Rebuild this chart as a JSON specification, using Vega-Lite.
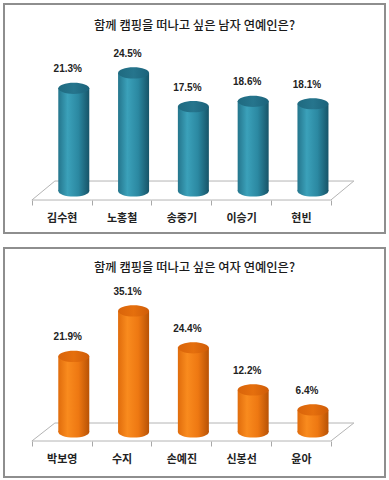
{
  "$schema": "https://vega.github.io/schema/vega-lite/v6.json",
  "background": "white",
  "padding": {"left": 3, "top": 3, "right": 4, "bottom": 3},
  "spacing": 15,
  "bounds": "flush",
  "config": {
    "view": {"stroke": "#8e8e8e", "strokeWidth": 2},
    "title": {"font": "Noto Sans CJK KR", "fontSize": 12.3, "fontWeight": 500, "color": "#1a1a1a", "frame": "group", "anchor": "middle", "baseline": "middle"},
    "axisX": {"labelFont": "Noto Sans CJK KR", "labelFontSize": 11, "labelFontWeight": "bold", "labelColor": "#222222", "labelAngle": 0, "domain": false, "tickColor": "#a8a8a8", "tickSize": 5, "labelPadding": 7}
  },
  "vconcat": [
    {
      "width": 381,
      "height": 229,
      "title": {"text": "함께 캠핑을 떠나고 싶은 남자 연예인은?", "offset": -28},
      "data": {"values": [
        {"name": "김수현", "value": 0.213},
        {"name": "노홍철", "value": 0.245},
        {"name": "송중기", "value": 0.175},
        {"name": "이승기", "value": 0.186},
        {"name": "현빈", "value": 0.181}
      ]},
      "layer": [
        {
          "mark": {"type": "rule", "color": "#b4b4b4", "strokeWidth": 1, "xOffset": 23, "x2Offset": 23, "yOffset": -10},
          "encoding": {
            "x": {"field": "name", "type": "nominal", "sort": null, "bandPosition": 0, "scale": {"paddingInner": 0, "paddingOuter": 0.686, "align": 0.34}, "axis": {"offset": -33, "title": null, "tickBand": "extent"}},
            "x2": {"field": "name", "bandPosition": 1},
            "y": {"datum": 0, "type": "quantitative", "axis": null, "scale": {"domain": [-0.0871, 0.388], "nice": false, "zero": false}}
          }
        },
        {
          "transform": [{"filter": {"field": "name", "equal": "김수현"}}],
          "mark": {"type": "rule", "color": "#b4b4b4", "strokeWidth": 1, "yOffset": 9, "x2Offset": 23, "y2Offset": -10},
          "encoding": {
            "x": {"field": "name", "type": "nominal", "sort": null, "bandPosition": 0, "scale": {"paddingInner": 0, "paddingOuter": 0.686, "align": 0.34}, "axis": {"offset": -33, "title": null, "tickBand": "extent"}},
            "x2": {"field": "name", "bandPosition": 0},
            "y": {"datum": 0, "type": "quantitative", "axis": null, "scale": {"domain": [-0.0871, 0.388], "nice": false, "zero": false}},
            "y2": {"datum": 0}
          }
        },
        {
          "transform": [{"filter": {"field": "name", "equal": "현빈"}}],
          "mark": {"type": "rule", "color": "#b4b4b4", "strokeWidth": 1, "yOffset": 9, "x2Offset": 23, "y2Offset": -10},
          "encoding": {
            "x": {"field": "name", "type": "nominal", "sort": null, "bandPosition": 1, "scale": {"paddingInner": 0, "paddingOuter": 0.686, "align": 0.34}, "axis": {"offset": -33, "title": null, "tickBand": "extent"}},
            "x2": {"field": "name", "bandPosition": 1},
            "y": {"datum": 0, "type": "quantitative", "axis": null, "scale": {"domain": [-0.0871, 0.388], "nice": false, "zero": false}},
            "y2": {"datum": 0}
          }
        },
        {
          "mark": {"type": "rule", "color": "#b4b4b4", "strokeWidth": 1, "yOffset": 9},
          "encoding": {
            "x": {"field": "name", "type": "nominal", "sort": null, "bandPosition": 0, "scale": {"paddingInner": 0, "paddingOuter": 0.686, "align": 0.34}, "axis": {"offset": -33, "title": null, "tickBand": "extent"}},
            "x2": {"field": "name", "bandPosition": 1},
            "y": {"datum": 0, "type": "quantitative", "axis": null, "scale": {"domain": [-0.0871, 0.388], "nice": false, "zero": false}}
          }
        },
        {
          "mark": {"type": "point", "shape": "M-1,0A1,0.36,0,1,1,1,0A1,0.36,0,1,1,-1,0Z", "filled": true, "size": 961, "opacity": 1, "strokeWidth": 0, "xOffset": 12,
            "color": {"gradient": "linear", "x1": 0, "y1": 0, "x2": 1, "y2": 0, "stops": [{"offset": 0, "color": "#24758c"}, {"offset": 0.3, "color": "#3ba1ba"}, {"offset": 0.65, "color": "#2b88a1"}, {"offset": 1, "color": "#175468"}]}},
          "encoding": {
            "x": {"field": "name", "type": "nominal", "sort": null, "scale": {"paddingInner": 0, "paddingOuter": 0.686, "align": 0.34}, "axis": {"offset": -33, "title": null, "tickBand": "extent"}},
            "y": {"datum": 0, "type": "quantitative", "axis": null, "scale": {"domain": [-0.0871, 0.388], "nice": false, "zero": false}}
          }
        },
        {
          "mark": {"type": "bar", "width": 31, "xOffset": 12,
            "color": {"gradient": "linear", "x1": 0, "y1": 0, "x2": 1, "y2": 0, "stops": [{"offset": 0, "color": "#24758c"}, {"offset": 0.3, "color": "#3ba1ba"}, {"offset": 0.65, "color": "#2b88a1"}, {"offset": 1, "color": "#175468"}]}},
          "encoding": {
            "x": {"field": "name", "type": "nominal", "sort": null, "scale": {"paddingInner": 0, "paddingOuter": 0.686, "align": 0.34}, "axis": {"offset": -33, "title": null, "tickBand": "extent"}},
            "y": {"field": "value", "type": "quantitative", "axis": null, "scale": {"domain": [-0.0871, 0.388], "nice": false, "zero": false}},
            "y2": {"datum": 0}
          }
        },
        {
          "mark": {"type": "point", "shape": "M-1,0A1,0.36,0,1,1,1,0A1,0.36,0,1,1,-1,0Z", "filled": true, "size": 961, "opacity": 1, "strokeWidth": 0, "xOffset": 12,
            "color": {"gradient": "linear", "x1": 0, "y1": 0, "x2": 1, "y2": 0, "stops": [{"offset": 0, "color": "#1f6a80"}, {"offset": 0.5, "color": "#26758d"}, {"offset": 1, "color": "#1b627a"}]}},
          "encoding": {
            "x": {"field": "name", "type": "nominal", "sort": null, "scale": {"paddingInner": 0, "paddingOuter": 0.686, "align": 0.34}, "axis": {"offset": -33, "title": null, "tickBand": "extent"}},
            "y": {"field": "value", "type": "quantitative", "axis": null, "scale": {"domain": [-0.0871, 0.388], "nice": false, "zero": false}}
          }
        },
        {
          "mark": {"type": "text", "dy": -19, "xOffset": 6, "font": "Liberation Sans", "fontSize": 10, "fontWeight": "bold", "color": "#222222"},
          "encoding": {
            "x": {"field": "name", "type": "nominal", "sort": null, "scale": {"paddingInner": 0, "paddingOuter": 0.686, "align": 0.34}, "axis": {"offset": -33, "title": null, "tickBand": "extent"}},
            "y": {"field": "value", "type": "quantitative", "axis": null, "scale": {"domain": [-0.0871, 0.388], "nice": false, "zero": false}},
            "text": {"field": "value", "type": "quantitative", "format": ".1%"}
          }
        }
      ]
    },
    {
      "width": 381,
      "height": 229,
      "title": {"text": "함께 캠핑을 떠나고 싶은 여자 연예인은?", "offset": -26},
      "data": {"values": [
        {"name": "박보영", "value": 0.219},
        {"name": "수지", "value": 0.351},
        {"name": "손예진", "value": 0.244},
        {"name": "신봉선", "value": 0.122},
        {"name": "윤아", "value": 0.064}
      ]},
      "layer": [
        {
          "mark": {"type": "rule", "color": "#b4b4b4", "strokeWidth": 1, "xOffset": 23, "x2Offset": 23, "yOffset": -9},
          "encoding": {
            "x": {"field": "name", "type": "nominal", "sort": null, "bandPosition": 0, "scale": {"paddingInner": 0, "paddingOuter": 0.686, "align": 0.34}, "axis": {"offset": -36, "title": null, "tickBand": "extent"}},
            "x2": {"field": "name", "bandPosition": 1},
            "y": {"datum": 0, "type": "quantitative", "axis": null, "scale": {"domain": [-0.1304, 0.5333], "nice": false, "zero": false}}
          }
        },
        {
          "transform": [{"filter": {"field": "name", "equal": "박보영"}}],
          "mark": {"type": "rule", "color": "#b4b4b4", "strokeWidth": 1, "yOffset": 9, "x2Offset": 23, "y2Offset": -9},
          "encoding": {
            "x": {"field": "name", "type": "nominal", "sort": null, "bandPosition": 0, "scale": {"paddingInner": 0, "paddingOuter": 0.686, "align": 0.34}, "axis": {"offset": -36, "title": null, "tickBand": "extent"}},
            "x2": {"field": "name", "bandPosition": 0},
            "y": {"datum": 0, "type": "quantitative", "axis": null, "scale": {"domain": [-0.1304, 0.5333], "nice": false, "zero": false}},
            "y2": {"datum": 0}
          }
        },
        {
          "transform": [{"filter": {"field": "name", "equal": "윤아"}}],
          "mark": {"type": "rule", "color": "#b4b4b4", "strokeWidth": 1, "yOffset": 9, "x2Offset": 23, "y2Offset": -9},
          "encoding": {
            "x": {"field": "name", "type": "nominal", "sort": null, "bandPosition": 1, "scale": {"paddingInner": 0, "paddingOuter": 0.686, "align": 0.34}, "axis": {"offset": -36, "title": null, "tickBand": "extent"}},
            "x2": {"field": "name", "bandPosition": 1},
            "y": {"datum": 0, "type": "quantitative", "axis": null, "scale": {"domain": [-0.1304, 0.5333], "nice": false, "zero": false}},
            "y2": {"datum": 0}
          }
        },
        {
          "mark": {"type": "rule", "color": "#b4b4b4", "strokeWidth": 1, "yOffset": 9},
          "encoding": {
            "x": {"field": "name", "type": "nominal", "sort": null, "bandPosition": 0, "scale": {"paddingInner": 0, "paddingOuter": 0.686, "align": 0.34}, "axis": {"offset": -36, "title": null, "tickBand": "extent"}},
            "x2": {"field": "name", "bandPosition": 1},
            "y": {"datum": 0, "type": "quantitative", "axis": null, "scale": {"domain": [-0.1304, 0.5333], "nice": false, "zero": false}}
          }
        },
        {
          "mark": {"type": "point", "shape": "M-1,0A1,0.36,0,1,1,1,0A1,0.36,0,1,1,-1,0Z", "filled": true, "size": 961, "opacity": 1, "strokeWidth": 0, "xOffset": 12,
            "color": {"gradient": "linear", "x1": 0, "y1": 0, "x2": 1, "y2": 0, "stops": [{"offset": 0, "color": "#e06c0c"}, {"offset": 0.3, "color": "#f98b1e"}, {"offset": 0.65, "color": "#ee7812"}, {"offset": 1, "color": "#b85205"}]}},
          "encoding": {
            "x": {"field": "name", "type": "nominal", "sort": null, "scale": {"paddingInner": 0, "paddingOuter": 0.686, "align": 0.34}, "axis": {"offset": -36, "title": null, "tickBand": "extent"}},
            "y": {"datum": 0, "type": "quantitative", "axis": null, "scale": {"domain": [-0.1304, 0.5333], "nice": false, "zero": false}}
          }
        },
        {
          "mark": {"type": "bar", "width": 31, "xOffset": 12,
            "color": {"gradient": "linear", "x1": 0, "y1": 0, "x2": 1, "y2": 0, "stops": [{"offset": 0, "color": "#e06c0c"}, {"offset": 0.3, "color": "#f98b1e"}, {"offset": 0.65, "color": "#ee7812"}, {"offset": 1, "color": "#b85205"}]}},
          "encoding": {
            "x": {"field": "name", "type": "nominal", "sort": null, "scale": {"paddingInner": 0, "paddingOuter": 0.686, "align": 0.34}, "axis": {"offset": -36, "title": null, "tickBand": "extent"}},
            "y": {"field": "value", "type": "quantitative", "axis": null, "scale": {"domain": [-0.1304, 0.5333], "nice": false, "zero": false}},
            "y2": {"datum": 0}
          }
        },
        {
          "mark": {"type": "point", "shape": "M-1,0A1,0.36,0,1,1,1,0A1,0.36,0,1,1,-1,0Z", "filled": true, "size": 961, "opacity": 1, "strokeWidth": 0, "xOffset": 12,
            "color": {"gradient": "linear", "x1": 0, "y1": 0, "x2": 1, "y2": 0, "stops": [{"offset": 0, "color": "#d9640a"}, {"offset": 0.5, "color": "#e56f0d"}, {"offset": 1, "color": "#cf5c08"}]}},
          "encoding": {
            "x": {"field": "name", "type": "nominal", "sort": null, "scale": {"paddingInner": 0, "paddingOuter": 0.686, "align": 0.34}, "axis": {"offset": -36, "title": null, "tickBand": "extent"}},
            "y": {"field": "value", "type": "quantitative", "axis": null, "scale": {"domain": [-0.1304, 0.5333], "nice": false, "zero": false}}
          }
        },
        {
          "mark": {"type": "text", "dy": -19, "xOffset": 6, "font": "Liberation Sans", "fontSize": 10, "fontWeight": "bold", "color": "#222222"},
          "encoding": {
            "x": {"field": "name", "type": "nominal", "sort": null, "scale": {"paddingInner": 0, "paddingOuter": 0.686, "align": 0.34}, "axis": {"offset": -36, "title": null, "tickBand": "extent"}},
            "y": {"field": "value", "type": "quantitative", "axis": null, "scale": {"domain": [-0.1304, 0.5333], "nice": false, "zero": false}},
            "text": {"field": "value", "type": "quantitative", "format": ".1%"}
          }
        }
      ]
    }
  ]
}
